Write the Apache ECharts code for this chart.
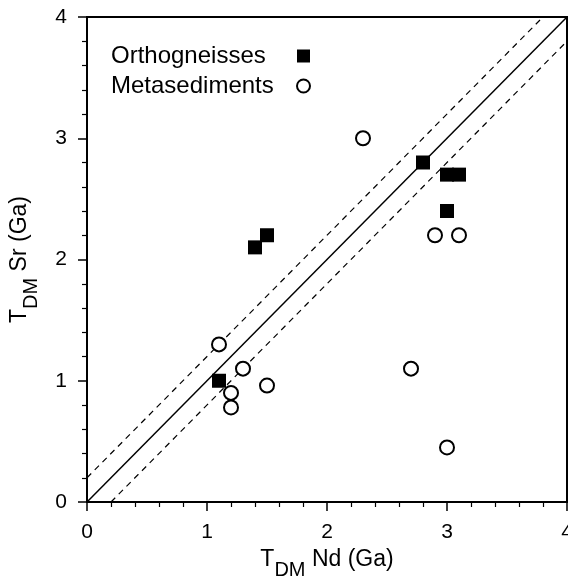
<!DOCTYPE html>
<html>
<head>
<meta charset="utf-8">
<script src="https://cdn.jsdelivr.net/npm/echarts@6/dist/echarts.min.js"></script>
<style>
  html, body { margin: 0; padding: 0; background: #fff; }
  #main { width: 568px; height: 579px; }
</style>
</head>
<body>
<div id="main"></div>
<script>
// 数据
var ortho = [[1.1, 1.0], [1.4, 2.1], [1.5, 2.2], [2.8, 2.8], [3.0, 2.7], [3.1, 2.7], [3.0, 2.4]];
var meta = [[1.1, 1.3], [1.3, 1.1], [1.2, 0.9], [1.2, 0.78], [1.5, 0.96], [2.7, 1.1], [3.0, 0.45], [2.3, 3.0], [2.9, 2.2], [3.1, 2.2]];
var lineEqual = [[0, 0], [4, 4]];
var lineUpper = [[0, 0.2], [3.8, 4]];
var lineLower = [[0.2, 0], [4, 3.8]];
var axisTicks = [0, 1, 2, 3, 4];

var font = "'Liberation Sans', Arial, Helvetica, sans-serif";

var myChart = echarts.init(document.getElementById('main'));

var nameRich = {
    t: { fontSize: 23, fontFamily: font, color: '#000', lineHeight: 24, verticalAlign: 'top' },
    s: { fontSize: 20, fontFamily: font, color: '#000', lineHeight: 20, verticalAlign: 'top', padding: [13, 0, 0, 0] },
    n: { fontSize: 23, fontFamily: font, color: '#000', lineHeight: 24, verticalAlign: 'top' }
};

function axisOpt(label) {
    return {
        type: 'value',
        min: axisTicks[0],
        max: axisTicks[axisTicks.length - 1],
        interval: 1,
        name: '{t|T}{s|DM}{n| ' + label + ' (Ga)}',
        nameLocation: 'middle',
        nameTextStyle: { rich: nameRich },
        axisLine: { show: true, lineStyle: { color: '#000', width: 2 } },
        axisTick: { show: true, inside: false, length: 9, lineStyle: { color: '#000', width: 1.5 } },
        minorTick: { show: true, splitNumber: 5, length: 5, lineStyle: { color: '#000', width: 1.2 } },
        splitLine: { show: false },
        axisLabel: { color: '#000', fontSize: 21, fontFamily: font, margin: 20 }
    };
}

var xAxis = axisOpt('Nd');
xAxis.nameGap = 45;
var yAxis = axisOpt('Sr');
yAxis.nameGap = 55;
yAxis.nameRotate = 90;

option = {
    backgroundColor: '#fff',
    animation: false,
    grid: {
        left: 87, right: 1, top: 17, bottom: 77,
        outerBoundsMode: 'none',
        containLabel: false,
        show: true, borderColor: '#000', borderWidth: 2
    },
    legend: {
        left: 106, top: 39,
        orient: 'vertical',
        align: 'right',
        itemGap: 6,
        itemWidth: 13, itemHeight: 13,
        selectedMode: false,
        formatter: '{a|{name}}',
        textStyle: {
            color: '#000', fontSize: 24, fontFamily: font, lineHeight: 24,
            rich: { a: { width: 181, align: 'left', fontSize: 24, fontFamily: font, color: '#000', lineHeight: 24 } }
        },
        data: [
            { name: 'Orthogneisses', icon: 'rect', itemStyle: { color: '#000', opacity: 1 } },
            { name: 'Metasediments', icon: 'circle', itemStyle: { color: '#fff', borderColor: '#000', borderWidth: 2, opacity: 1 } }
        ]
    },
    xAxis: xAxis,
    yAxis: yAxis,
    series: [
        {
            type: 'line', data: lineEqual, symbol: 'none', silent: true, z: 1,
            lineStyle: { color: '#000', width: 1.5 }
        },
        {
            type: 'line', data: lineUpper, symbol: 'none', silent: true, z: 1,
            lineStyle: { color: '#000', width: 1.2, type: [6, 5] }
        },
        {
            type: 'line', data: lineLower, symbol: 'none', silent: true, z: 1,
            lineStyle: { color: '#000', width: 1.2, type: [6, 5] }
        },
        {
            name: 'Orthogneisses', type: 'scatter', data: ortho, z: 3,
            symbol: 'rect', symbolSize: 14,
            itemStyle: { color: '#000', opacity: 1 }
        },
        {
            name: 'Metasediments', type: 'scatter', data: meta, z: 3,
            symbol: 'circle', symbolSize: 14,
            itemStyle: { color: '#fff', borderColor: '#000', borderWidth: 2, opacity: 1 }
        }
    ]
};

myChart.setOption(option);
window.addEventListener("resize", function () {
    myChart.resize();
});
</script>
</body>
</html>
